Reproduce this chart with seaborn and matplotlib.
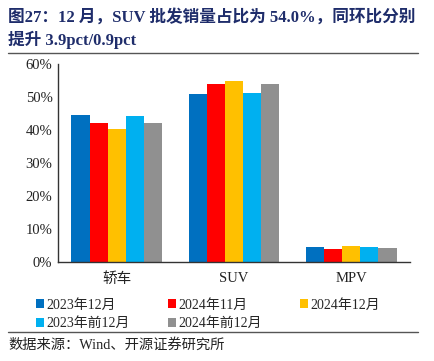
import numpy as np
import pandas as pd
import seaborn as sns
import matplotlib.pyplot as plt
from matplotlib.patches import Patch

categories = ["轿车", "SUV", "MPV"]
series = ["2023年12月", "2024年11月", "2024年12月", "2023年前12月", "2024年前12月"]
colors = ["#0070C0", "#FF0000", "#FFC000", "#00B0F0", "#909090"]

dec_2023 = [44.6, 50.9, 4.4]
nov_2024 = [42.0, 53.9, 4.0]
dec_2024 = [40.4, 54.8, 4.7]
ytd_2023 = [44.1, 51.3, 4.5]
ytd_2024 = [42.0, 53.9, 4.1]

yticks = [0, 10, 20, 30, 40, 50, 60]

rows = []
for name, vals in zip(series, [dec_2023, nov_2024, dec_2024, ytd_2023, ytd_2024]):
    for c, v in zip(categories, vals):
        rows.append({"cat": c, "series": name, "val": v})
df = pd.DataFrame(rows)

sns.set_style("white")
plt.rcParams['font.family'] = ['Liberation Serif', 'Noto Sans CJK SC']
plt.rcParams['axes.unicode_minus'] = False

fig = plt.figure(figsize=(4.34, 3.61), dpi=100)
ax = fig.add_axes([58/434, 1-262/361, (410-58)/434, (262-64)/361])

sns.barplot(data=df, x="cat", y="val", hue="series", order=categories,
            hue_order=series, palette=colors, width=0.77, linewidth=0,
            saturation=1, ax=ax, legend=False)

ax.set_xlim(-0.5, 2.5)
ax.set_ylim(0, 60)
ax.set_yticks(yticks)
ax.set_yticklabels([f"{t}%" for t in yticks], fontsize=10.5, color="#222222")
ax.tick_params(axis="y", direction="in", length=4, width=0.8, color="#444444", pad=4)
ax.tick_params(axis="x", which="major", length=0, pad=7)
ax.set_xticks([-0.5, 0.5, 1.5, 2.5], minor=True)
ax.tick_params(axis="x", which="minor", direction="in", length=4, width=0.8, color="#444444")
for lbl in ax.get_xticklabels():
    lbl.set_fontsize(10.5)
    lbl.set_color("#222222")
ax.set_xlabel("")
ax.set_ylabel("")
for s in ["top", "right"]:
    ax.spines[s].set_visible(False)
for s in ["left", "bottom"]:
    ax.spines[s].set_color("#333333")
    ax.spines[s].set_linewidth(1.0)

navy = "#1F2D6B"
fig.text(8/434, 1-22/361, "图27：12 月，SUV 批发销量占比为 54.0%，同环比分别",
         fontsize=12, fontweight="bold", color=navy, va="baseline")
fig.text(8/434, 1-45/361, "提升 3.9pct/0.9pct",
         fontsize=12, fontweight="bold", color=navy, va="baseline")
fig.add_artist(plt.Line2D([8/434, 418/434], [1-52.5/361, 1-52.5/361],
                          color="#555555", linewidth=1.0))

# legend fills column by column, so reorder to get row-wise layout
order = [0, 3, 1, 4, 2]
handles = [Patch(facecolor=colors[i], edgecolor="none") for i in order]
labels = [series[i] for i in order]
fig.legend(handles, labels, ncol=3, loc="upper left",
           bbox_to_anchor=(30/434, 1-293/361), frameon=False, fontsize=10,
           handlelength=0.6, handleheight=0.6, handletextpad=0.2,
           columnspacing=2.7, labelspacing=0.4, borderaxespad=0)

fig.add_artist(plt.Line2D([8/434, 418/434], [1-331.5/361, 1-331.5/361],
                          color="#555555", linewidth=1.0))
fig.text(8/434, 1-349/361, "数据来源：Wind、开源证券研究所", fontsize=10.3,
         color="#222222", va="baseline")

fig.savefig("out.png", dpi=100)
